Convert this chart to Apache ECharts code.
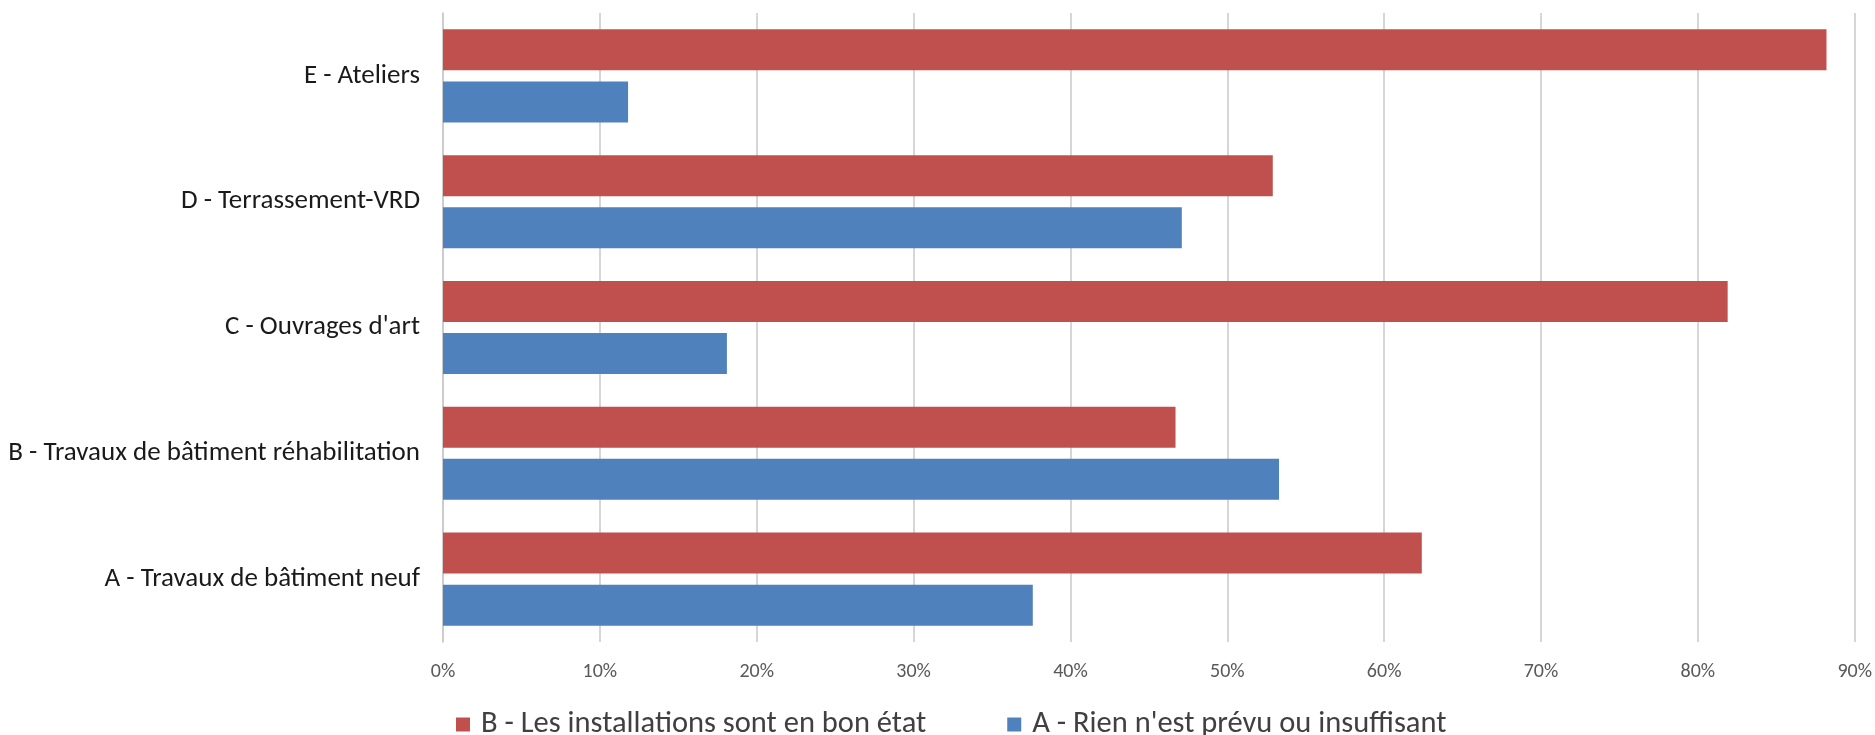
<!DOCTYPE html>
<html>
<head>
<meta charset="utf-8">
<script src="https://cdn.jsdelivr.net/npm/echarts@6/dist/echarts.min.js"></script>
<style>
html,body{margin:0;padding:0;background:#fff;}
#chart{width:1875px;height:735px;}
</style>
</head>
<body>
<div id="chart"></div>
<script>
const categories = ['A - Travaux de bâtiment neuf', 'B - Travaux de bâtiment réhabilitation', "C - Ouvrages d'art", 'D - Terrassement-VRD', 'E - Ateliers'];
const seriesBonEtat = [62.4, 46.7, 81.9, 52.9, 88.2];
const seriesRien = [37.6, 53.3, 18.1, 47.1, 11.8];
const xTicks = [0, 10, 20, 30, 40, 50, 60, 70, 80, 90];
const nameBonEtat = 'B - Les installations sont en bon état';
const nameRien = "A - Rien n'est prévu ou insuffisant";

const FONT = 'Carlito, Calibri, Lato, sans-serif';
const chart = echarts.init(document.getElementById('chart'), null, {renderer: 'canvas'});
chart.setOption({
  animation: false,
  backgroundColor: '#ffffff',
  grid: {left: 443, right: 20, top: 13, bottom: 93, containLabel: false},
  legend: {
    data: [nameBonEtat, nameRien],
    left: 451, top: 704,
    icon: 'rect', itemWidth: 14, itemHeight: 14, itemGap: 81,
    textStyle: {fontFamily: FONT, fontSize: 30.5, color: '#404040', padding: [0, 0, 0, 6]}
  },
  xAxis: {
    type: 'value', min: xTicks[0], max: xTicks[xTicks.length - 1], interval: 10,
    axisLine: {show: false}, axisTick: {show: false},
    splitLine: {show: true, lineStyle: {color: '#C8C8C8', width: 1.5}},
    axisLabel: {formatter: v => v + '%', fontFamily: FONT, fontSize: 20, color: '#595959', margin: 20}
  },
  yAxis: {
    type: 'category', data: categories,
    axisLine: {show: true, lineStyle: {color: '#C8C8C8', width: 1.5}},
    axisTick: {show: false},
    axisLabel: {fontFamily: FONT, fontSize: 27, color: '#1a1a1a', margin: 23}
  },
  series: [
    {name: nameBonEtat, type: 'bar', data: seriesBonEtat, barWidth: 41, barGap: '27%',
     itemStyle: {color: '#C0504D'}},
    {name: nameRien, type: 'bar', data: seriesRien, barWidth: 41, barGap: '27%',
     itemStyle: {color: '#4F81BD'}}
  ]
});
</script>
</body>
</html>
